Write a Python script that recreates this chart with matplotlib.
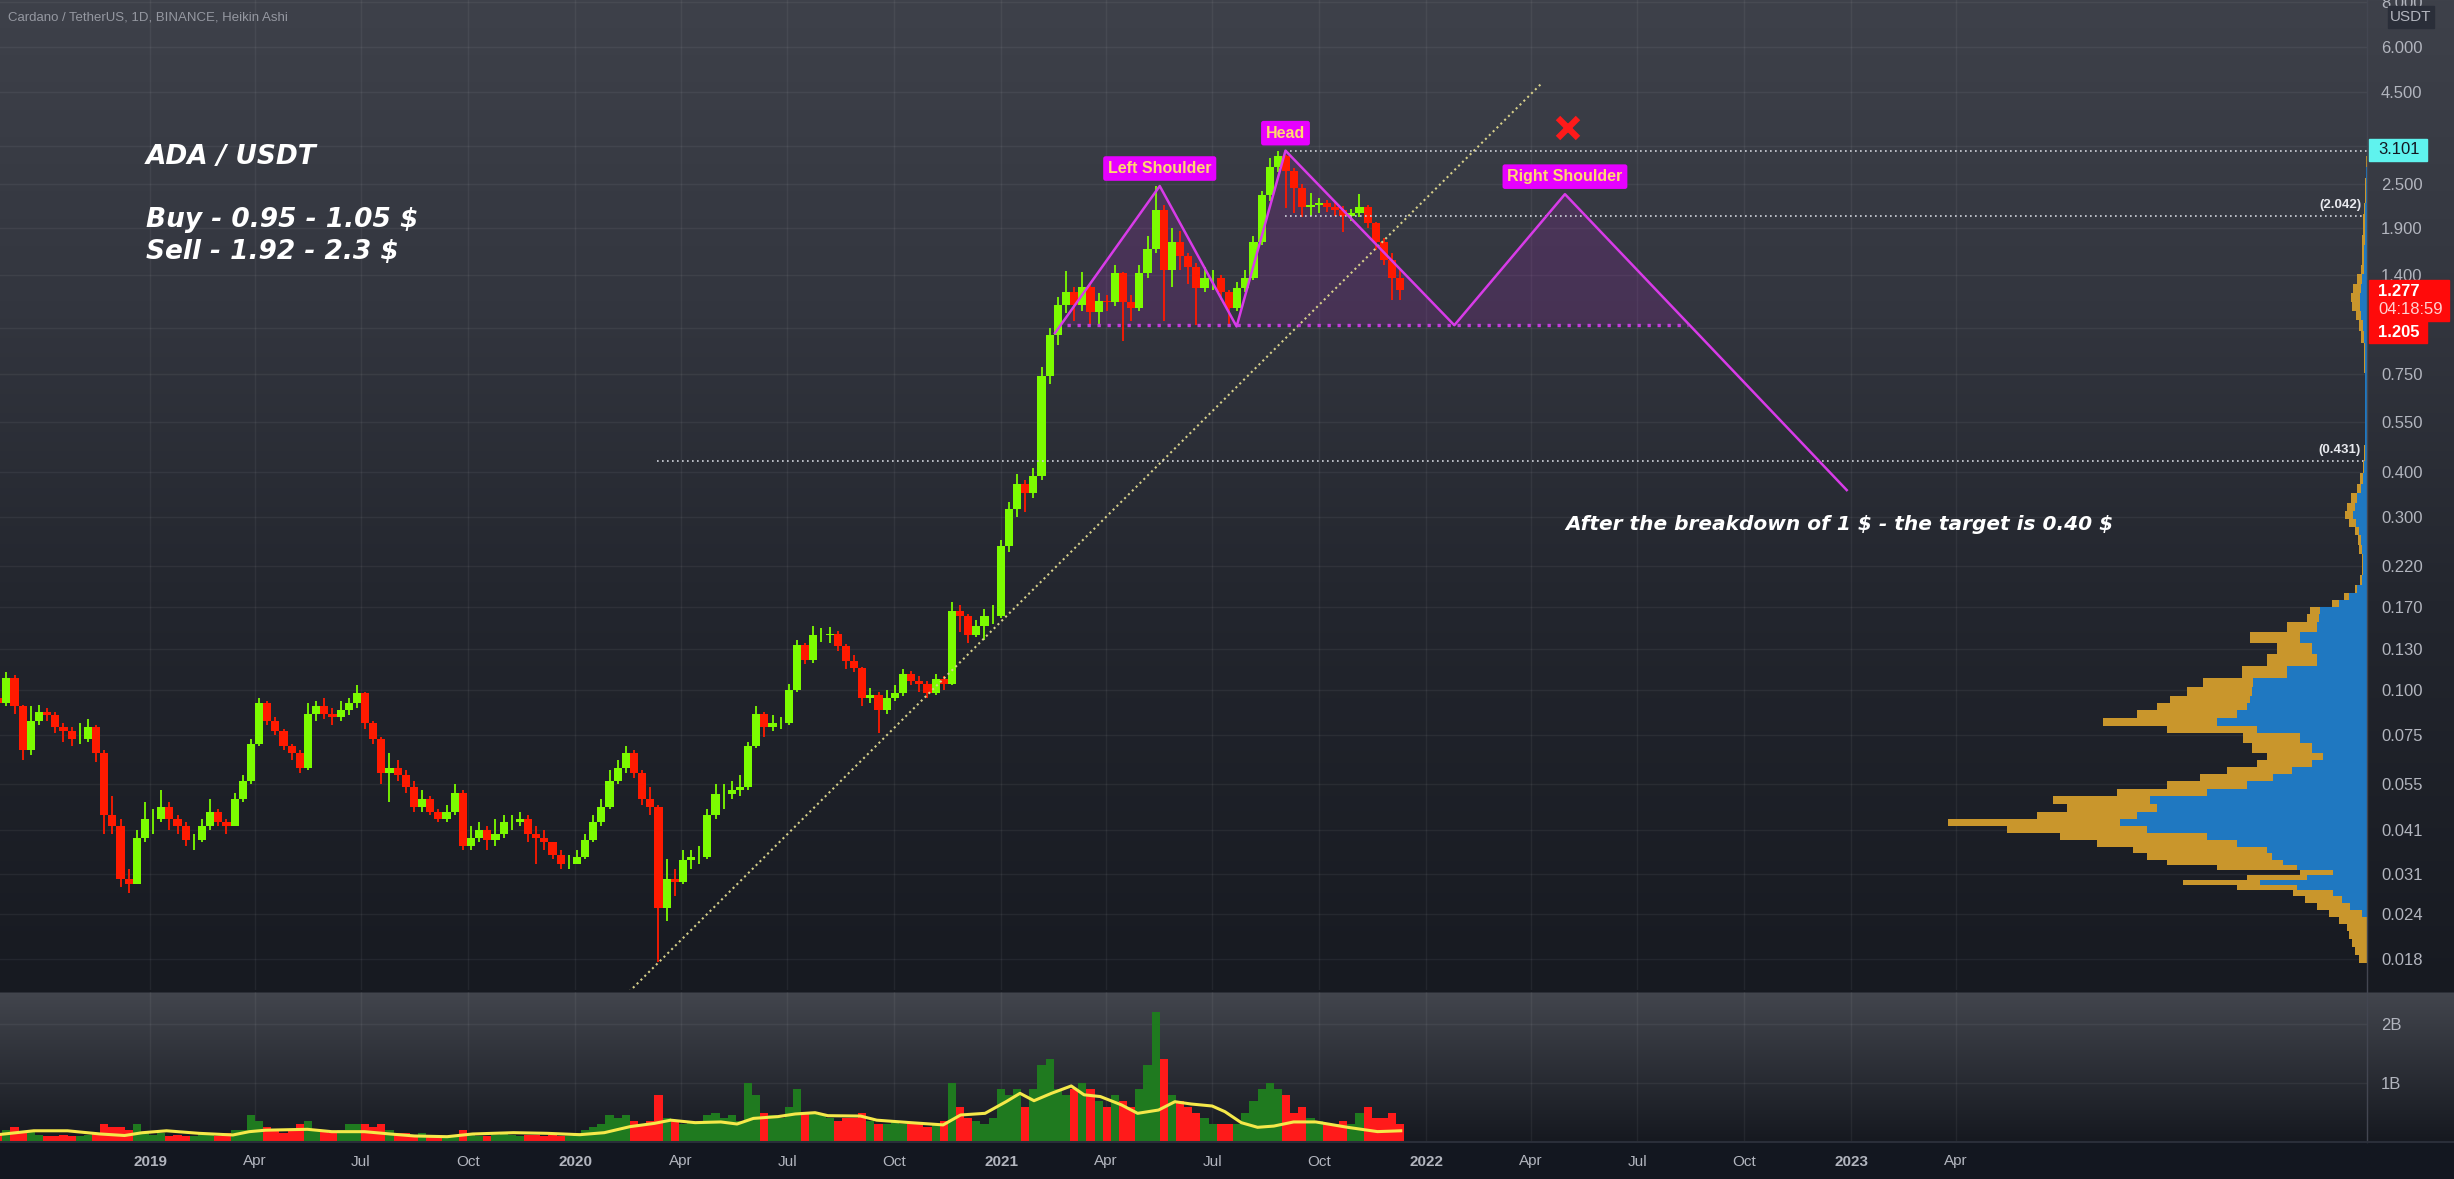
import numpy as np
import pandas as pd
import matplotlib
matplotlib.use("Agg")
import matplotlib.pyplot as plt
import matplotlib.dates as mdates
from matplotlib.patches import Rectangle
from matplotlib.ticker import NullLocator

# ---------------- data ----------------
# weekly Heikin-Ashi style candles, value = close of the week ending on that date
week_end0 = "2018-08-27"
first_open = 0.095
ha_close = [0.092, 0.108, 0.090, 0.068, 0.082, 0.087, 0.085, 0.079, 0.077, 0.073,
            0.073, 0.079, 0.067, 0.045, 0.042, 0.030, 0.029, 0.039, 0.044, 0.044,
            0.0475, 0.044, 0.042, 0.0385, 0.0385, 0.042, 0.046, 0.043, 0.042, 0.050,
            0.056, 0.071, 0.092, 0.082, 0.077, 0.070, 0.067, 0.061, 0.086, 0.090,
            0.086, 0.084, 0.088, 0.092, 0.098, 0.081, 0.073, 0.059, 0.061, 0.058,
            0.054, 0.0475, 0.050, 0.046, 0.044, 0.046, 0.052, 0.037, 0.039, 0.041,
            0.0385, 0.040, 0.043, 0.043, 0.044, 0.040, 0.039, 0.038, 0.035, 0.033,
            0.033, 0.0346, 0.0385, 0.043, 0.0475, 0.056, 0.061, 0.067, 0.059, 0.050,
            0.0475, 0.025, 0.030, 0.0295, 0.0338, 0.0345, 0.0345, 0.045, 0.0517, 0.0517,
            0.053, 0.054, 0.070, 0.086, 0.079, 0.081, 0.081, 0.100, 0.133, 0.121,
            0.142, 0.142, 0.143, 0.132, 0.120, 0.115, 0.095, 0.097, 0.088, 0.095,
            0.098, 0.111, 0.106, 0.104, 0.098, 0.107, 0.104, 0.165, 0.160, 0.142,
            0.150, 0.160, 0.160, 0.25, 0.316, 0.37, 0.35, 0.39, 0.74, 0.96,
            1.16, 1.26, 1.16, 1.30, 1.11, 1.19, 1.18, 1.42, 1.18, 1.14,
            1.42, 1.66, 2.13, 1.45, 1.73, 1.58, 1.48, 1.29, 1.38, 1.38,
            1.26, 1.14, 1.29, 1.38, 1.73, 2.33, 2.8, 3.0, 2.72, 2.45,
            2.17, 2.2, 2.22, 2.17, 2.13, 2.05, 2.08, 2.17, 1.95, 1.73,
            1.55, 1.38, 1.277]
ha_high = [0.100, 0.112, 0.110, 0.091, 0.090, 0.091, 0.089, 0.087, 0.081, 0.079,
           0.081, 0.083, 0.080, 0.068, 0.051, 0.044, 0.032, 0.041, 0.049, 0.047,
           0.053, 0.049, 0.045, 0.043, 0.040, 0.044, 0.050, 0.047, 0.044, 0.052,
           0.058, 0.073, 0.095, 0.093, 0.084, 0.078, 0.071, 0.068, 0.092, 0.093,
           0.095, 0.089, 0.093, 0.095, 0.103, 0.099, 0.082, 0.074, 0.067, 0.064,
           0.060, 0.056, 0.053, 0.051, 0.047, 0.048, 0.055, 0.053, 0.042, 0.043,
           0.042, 0.044, 0.045, 0.045, 0.046, 0.045, 0.042, 0.041, 0.038, 0.036,
           0.035, 0.036, 0.040, 0.045, 0.050, 0.060, 0.064, 0.070, 0.068, 0.060,
           0.054, 0.048, 0.034, 0.032, 0.036, 0.036, 0.037, 0.047, 0.055, 0.055,
           0.056, 0.058, 0.072, 0.090, 0.087, 0.085, 0.084, 0.104, 0.137, 0.135,
           0.150, 0.148, 0.149, 0.146, 0.134, 0.125, 0.116, 0.101, 0.099, 0.100,
           0.103, 0.114, 0.113, 0.109, 0.106, 0.111, 0.109, 0.175, 0.172, 0.162,
           0.156, 0.167, 0.172, 0.26, 0.33, 0.395, 0.38, 0.41, 0.78, 1.0,
           1.22, 1.44, 1.30, 1.43, 1.32, 1.25, 1.24, 1.50, 1.43, 1.24,
           1.50, 1.80, 2.47, 2.20, 1.90, 1.86, 1.62, 1.52, 1.48, 1.45,
           1.40, 1.28, 1.34, 1.45, 1.80, 2.40, 2.95, 3.10, 3.02, 2.78,
           2.50, 2.36, 2.30, 2.27, 2.24, 2.18, 2.14, 2.35, 2.20, 1.97,
           1.78, 1.62, 1.45]
ha_low = [0.088, 0.090, 0.086, 0.064, 0.066, 0.080, 0.082, 0.076, 0.072, 0.070,
          0.071, 0.072, 0.063, 0.040, 0.040, 0.0285, 0.0275, 0.029, 0.038, 0.040,
          0.043, 0.041, 0.040, 0.037, 0.036, 0.038, 0.041, 0.042, 0.040, 0.042,
          0.049, 0.055, 0.070, 0.080, 0.075, 0.068, 0.064, 0.059, 0.060, 0.082,
          0.083, 0.080, 0.082, 0.085, 0.089, 0.078, 0.071, 0.055, 0.049, 0.056,
          0.052, 0.046, 0.046, 0.045, 0.043, 0.043, 0.045, 0.036, 0.036, 0.038,
          0.036, 0.037, 0.039, 0.041, 0.042, 0.038, 0.033, 0.036, 0.034, 0.032,
          0.032, 0.033, 0.034, 0.038, 0.042, 0.047, 0.055, 0.059, 0.057, 0.048,
          0.045, 0.0177, 0.023, 0.027, 0.029, 0.032, 0.033, 0.034, 0.044, 0.047,
          0.050, 0.051, 0.053, 0.069, 0.074, 0.077, 0.078, 0.080, 0.099, 0.118,
          0.119, 0.136, 0.135, 0.128, 0.114, 0.112, 0.090, 0.092, 0.076, 0.086,
          0.093, 0.096, 0.103, 0.099, 0.095, 0.097, 0.100, 0.103, 0.145, 0.135,
          0.140, 0.137, 0.152, 0.158, 0.24, 0.30, 0.31, 0.34, 0.38, 0.70,
          0.90, 1.10, 1.05, 1.12, 1.02, 1.03, 1.12, 1.15, 0.92, 1.05,
          1.12, 1.38, 1.62, 1.05, 1.30, 1.45, 1.33, 1.02, 1.26, 1.28,
          1.20, 1.01, 1.12, 1.26, 1.36, 1.70, 2.25, 2.70, 2.15, 2.08,
          2.03, 2.05, 2.09, 2.10, 2.05, 1.85, 1.98, 2.03, 1.90, 1.65,
          1.50, 1.20, 1.20]
# daily volume level per week, in billions
volume_b = [0.15, 0.2, 0.25, 0.15, 0.2, 0.12, 0.1, 0.1, 0.12, 0.1, 0.1, 0.12, 0.15, 0.3, 0.25, 0.25, 0.2, 0.3,
            0.15, 0.12, 0.15, 0.1, 0.12, 0.1, 0.1, 0.15, 0.12, 0.1, 0.15, 0.2, 0.2,
            0.45, 0.35, 0.25, 0.2, 0.15, 0.2, 0.3, 0.35, 0.2, 0.2, 0.15, 0.2, 0.3, 0.3, 0.3,
            0.25, 0.3, 0.2, 0.15, 0.15, 0.12, 0.15, 0.1, 0.1, 0.08, 0.12, 0.2, 0.12, 0.1, 0.1,
            0.12, 0.15, 0.12, 0.1, 0.12, 0.12, 0.1, 0.12, 0.1, 0.1,
            0.15, 0.2, 0.25, 0.3, 0.45, 0.4, 0.45, 0.35, 0.3, 0.35,
            0.8,
            0.4, 0.35, 0.3, 0.35, 0.3, 0.45, 0.5, 0.4, 0.45, 0.35, 1.0, 0.8, 0.5, 0.45, 0.4,
            0.6, 0.9, 0.5, 0.5, 0.45, 0.4, 0.35, 0.4, 0.4, 0.5, 0.35, 0.3, 0.3, 0.35, 0.3, 0.3, 0.3, 0.25, 0.3, 0.35,
            1.0, 0.6, 0.4, 0.35, 0.3, 0.4, 0.9, 0.8, 0.9, 0.6, 0.9,
            1.3, 1.4, 0.9, 0.8, 0.9, 1.0, 0.9, 0.7, 0.6, 0.8, 0.7, 0.6, 0.9,
            1.3, 2.2, 1.4, 0.8, 0.7, 0.6, 0.5, 0.4, 0.3, 0.3,
            0.3, 0.3, 0.5, 0.7, 0.9, 1.0, 0.9, 0.8, 0.5, 0.6,
            0.4, 0.35, 0.3, 0.3, 0.35, 0.3, 0.5, 0.6, 0.4, 0.4, 0.5, 0.3]
vol_ma_dates = ["2018-08-26", "2018-09-23", "2018-10-22", "2018-11-19", "2018-12-10", "2018-12-25",
                "2019-01-15", "2019-02-12", "2019-03-13", "2019-03-27", "2019-04-10", "2019-05-16",
                "2019-06-06", "2019-07-04", "2019-07-26", "2019-08-16", "2019-09-13", "2019-10-05",
                "2019-11-09", "2019-12-08", "2020-01-05", "2020-01-26", "2020-02-17", "2020-03-09",
                "2020-03-23", "2020-04-13", "2020-05-05", "2020-05-19", "2020-06-02", "2020-06-23",
                "2020-07-08", "2020-07-25", "2020-08-05", "2020-09-02", "2020-09-16", "2020-10-15",
                "2020-11-12", "2020-11-27", "2020-12-18", "2021-01-05", "2021-01-17", "2021-01-29",
                "2021-02-13", "2021-03-02", "2021-03-13", "2021-03-27", "2021-04-14", "2021-04-28",
                "2021-05-16", "2021-05-30", "2021-06-13", "2021-07-01", "2021-07-12", "2021-07-26",
                "2021-08-09", "2021-08-23", "2021-09-09", "2021-09-28", "2021-10-25", "2021-11-20",
                "2021-12-10"]
vol_ma = [0.13, 0.19, 0.19, 0.136, 0.11, 0.157,
          0.19, 0.147, 0.119, 0.175, 0.20, 0.215,
          0.175, 0.175, 0.136, 0.102, 0.09, 0.136,
          0.158, 0.147, 0.124, 0.158, 0.26, 0.316,
          0.37, 0.328, 0.34, 0.305, 0.40, 0.43,
          0.475, 0.497, 0.446, 0.44, 0.37, 0.328,
          0.29, 0.458, 0.486, 0.683, 0.825, 0.70,
          0.825, 0.95, 0.80, 0.77, 0.63, 0.486,
          0.542, 0.683, 0.644, 0.61, 0.514, 0.328,
          0.249, 0.27, 0.34, 0.34, 0.25, 0.176,
          0.19]

# visible-range volume profile (row price, total volume, up volume), relative units
vp_price = [0.0180, 0.0190, 0.0200, 0.0210, 0.0220, 0.0230, 0.0240, 0.0252, 0.0263, 0.0274,
            0.0284, 0.0293, 0.0302, 0.0312, 0.0322, 0.0332, 0.0346, 0.0361, 0.0376, 0.0392,
            0.0410, 0.0429, 0.0448, 0.0470, 0.0496, 0.0520, 0.0546, 0.0574, 0.0600, 0.0625,
            0.0653, 0.0690, 0.0741, 0.0780, 0.0815, 0.0860, 0.0900, 0.0938, 0.0990, 0.1045,
            0.1120, 0.1210, 0.1300, 0.1400, 0.1500, 0.1580, 0.1660, 0.1740, 0.1810, 0.1900,
            0.2000, 0.2150, 0.2300, 0.2450, 0.2600, 0.2750, 0.2900, 0.3050, 0.3200, 0.3400,
            0.3600, 0.3850, 0.4100, 0.4500, 0.5000, 0.5500, 0.6000, 0.6600, 0.7200, 0.7900,
            0.8700, 0.9500, 1.0200, 1.0900, 1.1500, 1.2200, 1.2900, 1.3700, 1.4500, 1.5500,
            1.6500, 1.7500, 1.8700, 2.0000, 2.1500, 2.3000, 2.5000, 2.7000, 2.9000]
vp_total = [8, 12, 15, 18, 20, 28, 38, 50, 62, 74,
            130, 184, 120, 67, 150, 200, 220, 234, 270, 307,
            360, 419, 330, 300, 314, 250, 200, 167, 140, 110,
            100, 115, 124, 200, 264, 230, 210, 197, 180, 164,
            125, 100, 90, 117, 80, 60, 57, 35, 23, 12,
            7, 5, 5, 8, 9, 12, 18, 22, 20, 16,
            10, 7, 4, 3, 2, 2, 2, 2, 2, 3,
            3, 6, 8, 11, 15, 16, 14, 10, 6, 5,
            5, 5, 4, 4, 3, 2, 2, 1.5, 1]
vp_up = [0, 0, 0, 0, 0, 0, 5, 17, 25, 34,
         70, 107, 60, 34, 70, 84, 95, 100, 130, 160,
         220, 247, 230, 210, 217, 160, 120, 94, 75, 55,
         44, 55, 67, 110, 150, 130, 120, 117, 115, 114,
         80, 50, 55, 67, 50, 48, 47, 28, 18, 10,
         5, 4, 4, 5, 6, 8, 11, 14, 12, 10,
         6, 4, 3, 2, 2, 2, 2, 2, 2, 2,
         2, 3, 4, 6, 7, 7, 6, 5, 3, 3,
         3, 2, 2, 2, 2, 1, 1, 1, 0.5]

price_ticks = [8.0, 6.0, 4.5, 3.2, 2.5, 1.9, 1.4, 1.0, 0.75, 0.55, 0.4, 0.3, 0.22,
               0.17, 0.13, 0.1, 0.075, 0.055, 0.041, 0.031, 0.024, 0.018]
time_ticks = ["2019-01-01", "2019-04-01", "2019-07-01", "2019-10-01", "2020-01-01", "2020-04-01",
              "2020-07-01", "2020-10-01", "2021-01-01", "2021-04-01", "2021-07-01", "2021-10-01",
              "2022-01-01", "2022-04-01", "2022-07-01", "2022-10-01", "2023-01-01", "2023-04-01"]
time_labels = ["2019", "Apr", "Jul", "Oct", "2020", "Apr", "Jul", "Oct", "2021", "Apr", "Jul", "Oct",
               "2022", "Apr", "Jul", "Oct", "2023", "Apr"]

# drawings
hs_dates = ["2021-02-16", "2021-05-17", "2021-07-22", "2021-09-02", "2022-01-25", "2022-04-30", "2022-12-28"]
hs_prices = [0.97, 2.475, 1.012, 3.10, 1.02, 2.35, 0.357]
neck_dates = ["2021-02-26", "2022-08-14"]
neck_price = 1.02
fill_dates = hs_dates[:6] + ["2022-08-15", "2021-02-16"]
fill_prices = hs_prices[:6] + [1.02, 1.02]
hs_labels = ["Left Shoulder", "Head", "Right Shoulder"]
hs_label_idx = [1, 3, 5]
trend_dates = ["2020-02-13", "2022-04-09"]
trend_prices = [0.01428, 4.725]
level_prices = [3.101, 2.042, 0.431]
level_starts = ["2021-09-02", "2021-09-02", "2020-03-11"]
cross_date, cross_price = "2022-05-03", 3.58

# ---------------- layout (pixel geometry of the screenshot) ----------------
W, H = 2454, 1179
PANE_R = 2367
PRICE_B = 990
VOL_T, VOL_B = 992, 1142
LOG_TOP, PX_DEC = 0.908, 361.6
X2019, PX_DAY = 150.2, 1.1644
VOL_PX_B = 59.0

GREEN, RED = "#7cfc00", "#ff1a00"
MAG = "#d83be8"
TXT = "#b2b5be"
FONT = ["Liberation Sans", "DejaVu Sans"]
plt.rcParams["font.family"] = FONT


def fx(px):
    return px / W


def fy(py):
    return 1 - py / H


fig = plt.figure(figsize=(W / 100, H / 100), dpi=100)

# background gradient
rows = np.arange(H)
anchors = [(0, (62, 65, 74)), (300, (51, 54, 63)), (600, (35, 38, 46)), (990, (23, 26, 33)),
           (991, (23, 26, 33)), (993, (66, 69, 77)), (1140, (22, 25, 32)),
           (1142, (19, 23, 32)), (1178, (19, 23, 32))]
ay = [a[0] for a in anchors]
grad = np.stack([np.interp(rows, ay, [a[1][c] for a in anchors]) for c in range(3)], axis=-1) / 255.0
bg = fig.add_axes([0, 0, 1, 1], zorder=-10)
bg.imshow(grad[:, None, :], aspect="auto", extent=[0, 1, 0, 1])
bg.axis("off")

ax = fig.add_axes([0, fy(PRICE_B), fx(PANE_R), PRICE_B / H])
vax = fig.add_axes([0, fy(VOL_B), fx(PANE_R), (VOL_B - VOL_T) / H], sharex=ax)
for a in (ax, vax):
    a.patch.set_alpha(0)
    for s in a.spines.values():
        s.set_visible(False)

d2019 = mdates.date2num(pd.Timestamp("2019-01-01"))
ax.set_xlim(d2019 - X2019 / PX_DAY, d2019 + (PANE_R - X2019) / PX_DAY)
ax.set_yscale("log")
ax.set_ylim(10 ** (LOG_TOP - PRICE_B / PX_DEC), 10 ** LOG_TOP)
vax.set_ylim(0, (VOL_B - VOL_T) / VOL_PX_B)

# candles
close = np.array(ha_close)
opens = np.array([first_open] + ha_close[:-1])
xc = mdates.date2num(pd.date_range(week_end0, periods=len(close), freq="7D")) - 3.5
up = close >= opens
cols = np.where(up, GREEN, RED)
ax.vlines(xc, ha_low, ha_high, colors=cols, lw=1.3, zorder=3)
ax.bar(xc, close - opens, bottom=opens, width=7.0, color=cols, linewidth=0, zorder=4)

# volume
vcols = np.where(up, "#1f7a1f", "#ff1a1a")
vax.bar(xc, volume_b, width=7.0, color=vcols, linewidth=0, zorder=3)
vax.plot(mdates.date2num(pd.to_datetime(vol_ma_dates)), vol_ma, color="#f5e94a", lw=2.2, zorder=4)

# volume profile
vp = ax.twiny()
vp.set_xlim(PANE_R, 0)
vp.axis("off")
lp = np.log10(vp_price)
mids = (lp[1:] + lp[:-1]) / 2
lo_e = 10 ** np.concatenate([[lp[0] - (mids[0] - lp[0])], mids])
hi_e = 10 ** np.concatenate([mids, [lp[-1] + (lp[-1] - mids[-1])]])
vp_total = np.array(vp_total, float)
vp_up = np.array(vp_up, float)
vp.barh(lo_e, vp_up, height=hi_e - lo_e, align="edge", left=0, color="#1f78c1", linewidth=0, zorder=2)
vp.barh(lo_e, vp_total - vp_up, height=hi_e - lo_e, align="edge", left=vp_up, color="#c9962c",
        linewidth=0, zorder=2)

# grid and ticks
tnum = mdates.date2num(pd.to_datetime(time_ticks))
for a in (ax, vax):
    for t in tnum:
        a.axvline(t, color="white", alpha=0.055, lw=1, zorder=0)
for p in price_ticks:
    ax.axhline(p, color="white", alpha=0.055, lw=1, zorder=0)
for v in (1, 2):
    vax.axhline(v, color="white", alpha=0.055, lw=1, zorder=0)

ax.yaxis.tick_right()
ax.set_yticks(price_ticks)
ax.set_yticklabels([f"{p:.3f}" for p in price_ticks])
ax.yaxis.set_minor_locator(NullLocator())
ax.tick_params(axis="y", length=0, pad=10, labelsize=12, labelcolor=TXT)
ax.tick_params(axis="x", length=0, labelbottom=False)

vax.yaxis.tick_right()
vax.set_yticks([1, 2])
vax.set_yticklabels(["1B", "2B"])
vax.tick_params(axis="y", length=0, pad=10, labelsize=12, labelcolor=TXT)
vax.set_xticks(tnum)
vax.set_xticklabels(time_labels)
vax.tick_params(axis="x", length=0, pad=9, labelsize=11, labelcolor=TXT)
for lab in vax.get_xticklabels():
    if lab.get_text().isdigit():
        lab.set_fontweight("bold")

# separators
fig.add_artist(plt.Line2D([fx(PANE_R), fx(PANE_R)], [fy(0), fy(VOL_B)], color="#434651", lw=1))
fig.add_artist(plt.Line2D([0, 1], [fy(VOL_B), fy(VOL_B)], color="#2a2e39", lw=1.5))

# head & shoulders drawing
hd = mdates.date2num(pd.to_datetime(hs_dates))
fd = mdates.date2num(pd.to_datetime(fill_dates))
ax.fill(fd, fill_prices, color="#9c27b0", alpha=0.2, lw=0, zorder=2)
ax.plot(hd, hs_prices, color=MAG, lw=1.8, zorder=6)
nd = mdates.date2num(pd.to_datetime(neck_dates))
ax.plot(nd, [neck_price, neck_price], color="#c43ddc", lw=2.4, ls=(0, (1, 2)), zorder=6)
for txt, i in zip(hs_labels, hs_label_idx):
    ax.annotate(txt, xy=(hd[i], hs_prices[i]), xytext=(0, 10), textcoords="offset pixels",
                ha="center", va="bottom", fontsize=11.5, fontweight="bold", color="#ffd76e",
                bbox=dict(boxstyle="round,pad=0.3,rounding_size=0.15", fc="#e600ff", ec="none"),
                zorder=8)

# trend line
td = mdates.date2num(pd.to_datetime(trend_dates))
ax.plot(td, trend_prices, color="#d6cf8a", lw=1.5, ls=(0, (1, 1.6)), zorder=5)

# horizontal levels
xr = ax.get_xlim()[1]
for p, s in zip(level_prices, level_starts):
    ax.plot([mdates.date2num(pd.Timestamp(s)), xr], [p, p], color="#d1d4dc", lw=1.2,
            ls=(0, (1, 2)), zorder=5)
for p in level_prices[1:]:
    ax.annotate(f"({p:.3f})", xy=(xr, p), xytext=(-6, 5), textcoords="offset pixels",
                ha="right", va="bottom", fontsize=9.5, fontweight="bold", color="#e8e9ee", zorder=8)

# red cross
ax.plot(mdates.date2num(pd.Timestamp(cross_date)), cross_price, marker="x", ms=15, mew=4.5,
        color="#ff1a1a", zorder=8)

# texts
fig.text(fx(8), fy(17), "Cardano / TetherUS, 1D, BINANCE, Heikin Ashi", fontsize=9.5,
         color="#9598a1", va="center", ha="left")
big = dict(family="DejaVu Sans", fontweight="bold", style="italic", color="white", ha="left",
           va="center", zorder=9)
fig.text(fx(146), fy(157), "ADA / USDT", fontsize=19, **big)
fig.text(fx(146), fy(220), r"Buy - 0.95 - 1.05 \$", fontsize=19, **big)
fig.text(fx(146), fy(252), r"Sell - 1.92 - 2.3 \$", fontsize=19, **big)
fig.text(fx(1565), fy(524), r"After the breakdown of 1 \$ - the target is 0.40 \$", fontsize=14.5, **big)

# price-axis badges


def badge(x0, y0, x1, y1, color):
    fig.add_artist(Rectangle((fx(x0), fy(y1)), fx(x1 - x0), (y1 - y0) / H, color=color,
                             zorder=7, transform=fig.transFigure))


badge(2388, 6, 2434, 28, "#2a2e39")
fig.text(fx(2411), fy(17), "USDT", fontsize=11, color=TXT, ha="center", va="center", zorder=9)
badge(2369, 139, 2427, 161, "#5ff3ee")
fig.text(fx(2378), fy(150), "3.101", fontsize=12, color="#131722", ha="left", va="center", zorder=9)
badge(2369, 280, 2449, 321, "#ff0a0a")
badge(2369, 321, 2427, 343, "#ff0a0a")
fig.text(fx(2378), fy(291), "1.277", fontsize=12, color="white", fontweight="bold", ha="left",
         va="center", zorder=9)
fig.text(fx(2378), fy(310), "04:18:59", fontsize=12, color="#ffd0d0", ha="left", va="center", zorder=9)
fig.text(fx(2378), fy(332), "1.205", fontsize=12, color="white", fontweight="bold", ha="left",
         va="center", zorder=9)

fig.savefig("out.png", dpi=100)
